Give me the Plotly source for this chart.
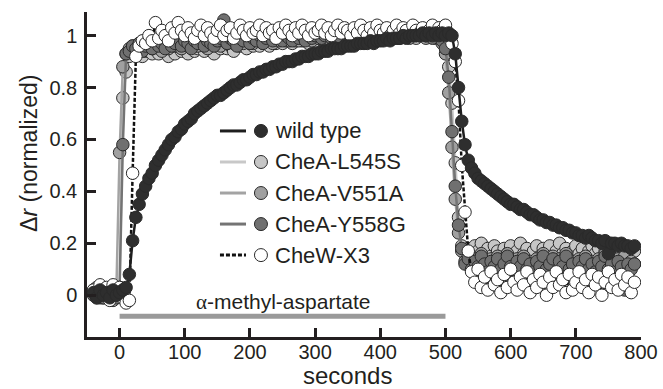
import plotly.graph_objects as go

# ---------------- data ----------------
time_s = list(range(-40, 795, 5))  # sampling grid, 5 s

wild_type = [
    0.01, -0.01, 0.02, 0.00, 0.01, -0.01, 0.02, 0.00, 0.01, 0.02,
    0.03, 0.08, 0.21, 0.30, 0.35, 0.39, 0.42, 0.45, 0.47, 0.50,
    0.52, 0.54, 0.56, 0.58, 0.60, 0.61, 0.63, 0.64, 0.66, 0.67,
    0.68, 0.70, 0.71, 0.72, 0.73, 0.74, 0.75, 0.76, 0.77, 0.77,
    0.78, 0.79, 0.80, 0.81, 0.81, 0.82, 0.83, 0.83, 0.84, 0.85,
    0.85, 0.86, 0.86, 0.87, 0.87, 0.88, 0.88, 0.89, 0.89, 0.90,
    0.90, 0.90, 0.91, 0.91, 0.92, 0.92, 0.92, 0.93, 0.93, 0.93,
    0.94, 0.94, 0.94, 0.95, 0.95, 0.95, 0.95, 0.96, 0.96, 0.96,
    0.96, 0.97, 0.97, 0.97, 0.97, 0.98, 0.97, 0.98, 0.98, 0.98,
    0.99, 0.98, 0.99, 0.99, 0.99, 1.00, 0.99, 1.00, 1.00, 1.00,
    1.00, 1.01, 1.00, 1.01, 1.00, 1.01, 1.00, 1.01, 1.00, 1.01,
    1.00, 0.93, 0.80, 0.67, 0.58, 0.52, 0.49, 0.47, 0.45, 0.44,
    0.43, 0.42, 0.41, 0.40, 0.39, 0.38, 0.37, 0.36, 0.35, 0.35,
    0.34, 0.33, 0.33, 0.32, 0.31, 0.31, 0.30, 0.29, 0.29, 0.28,
    0.28, 0.27, 0.27, 0.26, 0.26, 0.25, 0.25, 0.24, 0.24, 0.23,
    0.23, 0.22, 0.23, 0.22, 0.21, 0.21, 0.20, 0.21, 0.16, 0.20,
    0.20, 0.19, 0.20, 0.19, 0.19, 0.18, 0.19,
]

chea_l545s = [
    0.02, 0.00, 0.03, -0.01, 0.01, 0.03, 0.00, 0.02, 0.02, 0.76,
    0.86, 0.92, 0.94, 0.93, 0.95, 0.92, 0.94, 0.96, 0.93, 0.95,
    0.93, 0.96, 0.94, 0.92, 0.95, 0.93, 0.96, 0.94, 0.95, 0.93,
    0.96, 0.94, 0.95, 0.97, 0.94, 0.96, 0.95, 0.93, 0.96, 0.95,
    0.97, 0.95, 0.96, 0.94, 0.97, 0.96, 0.98, 0.95, 0.97, 0.96,
    0.98, 0.96, 0.97, 0.99, 0.96, 0.98, 0.97, 0.99, 0.97, 0.98,
    0.99, 0.97, 0.98, 1.00, 0.98, 0.99, 0.97, 1.00, 0.98, 0.99,
    1.00, 0.98, 0.99, 1.01, 0.99, 1.00, 0.98, 1.01, 0.99, 1.00,
    1.01, 0.99, 1.00, 1.02, 0.99, 1.01, 1.00, 0.99, 1.01, 1.00,
    1.02, 1.00, 1.01, 0.99, 1.01, 1.00, 1.02, 1.00, 1.01, 0.99,
    1.01, 1.00, 1.02, 1.00, 1.01, 0.99, 1.01, 1.00, 0.97, 0.88,
    0.74, 0.51, 0.30, 0.19, 0.16, 0.18, 0.15, 0.19, 0.17, 0.20,
    0.16, 0.18, 0.15, 0.19, 0.17, 0.14, 0.18, 0.16, 0.19, 0.15,
    0.17, 0.20, 0.16, 0.18, 0.14, 0.17, 0.19, 0.15, 0.18, 0.16,
    0.19, 0.15, 0.17, 0.20, 0.16, 0.18, 0.14, 0.17, 0.19, 0.16,
    0.18, 0.15, 0.17, 0.19, 0.16, 0.18, 0.14, 0.17, 0.20, 0.16,
    0.18, 0.15, 0.17, 0.19, 0.16, 0.18, 0.17,
]

chea_v551a = [
    0.01, 0.03, -0.01, 0.02, 0.00, 0.02, -0.02, 0.01, 0.55, 0.88,
    0.93, 0.95, 0.96, 0.94, 0.97, 0.95, 0.96, 0.98, 0.95, 0.97,
    0.96, 0.94, 0.97, 0.95, 0.98, 0.96, 0.97, 0.95, 0.98, 0.96,
    0.97, 0.99, 0.96, 0.98, 0.97, 0.95, 0.98, 0.97, 0.99, 0.96,
    0.98, 0.97, 0.99, 0.97, 0.98, 1.00, 0.97, 0.99, 0.98, 0.97,
    0.99, 0.98, 1.00, 0.98, 0.99, 0.97, 1.00, 0.98, 0.99, 1.01,
    0.98, 1.00, 0.99, 0.98, 1.01, 0.99, 1.00, 0.98, 1.00, 0.99,
    1.01, 0.99, 1.00, 0.98, 1.01, 1.00, 0.99, 1.01, 1.00, 0.99,
    1.00, 1.02, 0.99, 1.01, 1.00, 0.99, 1.01, 1.00, 1.02, 0.99,
    1.01, 1.00, 0.99, 1.01, 1.00, 1.02, 1.00, 0.99, 1.01, 1.00,
    1.00, 1.01, 0.99, 1.00, 1.01, 1.00, 0.99, 0.97, 0.93, 0.78,
    0.57, 0.37, 0.24, 0.17, 0.13, 0.15, 0.11, 0.14, 0.12, 0.16,
    0.13, 0.10, 0.14, 0.12, 0.15, 0.11, 0.13, 0.16, 0.12, 0.10,
    0.14, 0.12, 0.15, 0.11, 0.13, 0.10, 0.14, 0.12, 0.16, 0.11,
    0.13, 0.15, 0.10, 0.14, 0.12, 0.16, 0.11, 0.13, 0.09, 0.14,
    0.12, 0.15, 0.11, 0.13, 0.10, 0.14, 0.12, 0.16, 0.11, 0.13,
    0.10, 0.14, 0.12, 0.15, 0.11, 0.13, 0.12,
]

chea_y558g = [
    0.00, 0.02, 0.01, -0.01, 0.02, 0.00, 0.01, -0.01, 0.03, 0.58,
    0.93, 0.94, 0.96, 0.95, 0.97, 0.94, 0.96, 0.97, 0.95, 0.98,
    0.96, 0.97, 0.95, 0.98, 0.96, 0.97, 0.99, 0.96, 0.98, 0.97,
    0.95, 0.98, 0.97, 0.99, 0.96, 0.98, 0.97, 0.96, 0.98, 0.99,
    1.06, 0.97, 0.99, 0.98, 0.96, 0.99, 0.98, 1.00, 0.97, 0.99,
    0.98, 1.00, 0.97, 0.99, 1.00, 0.98, 0.99, 1.01, 0.98, 1.00,
    0.99, 0.98, 1.01, 0.99, 1.00, 0.98, 1.01, 0.99, 1.00, 1.02,
    0.99, 1.00, 1.01, 0.99, 1.00, 1.02, 0.99, 1.01, 1.00, 0.99,
    1.01, 1.00, 1.02, 0.99, 1.01, 1.00, 1.02, 1.00, 0.99, 1.01,
    1.00, 1.02, 1.00, 1.01, 0.99, 1.01, 1.00, 1.02, 1.00, 1.01,
    1.00, 1.02, 1.00, 1.01, 0.99, 1.01, 1.00, 0.98, 0.95, 0.84,
    0.63, 0.42, 0.27, 0.18, 0.12, 0.14, 0.10, 0.13, 0.11, 0.15,
    0.12, 0.09, 0.13, 0.11, 0.14, 0.10, 0.12, 0.15, 0.11, 0.09,
    0.13, 0.11, 0.14, 0.10, 0.12, 0.09, 0.13, 0.11, 0.15, 0.10,
    0.12, 0.14, 0.09, 0.13, 0.11, 0.15, 0.10, 0.12, 0.08, 0.13,
    0.11, 0.14, 0.10, 0.12, 0.09, 0.13, 0.11, 0.15, 0.10, 0.12,
    0.09, 0.13, 0.11, 0.02, 0.12, 0.10, 0.12,
]

chew_x3 = [
    0.02, -0.01, 0.04, 0.01, 0.03, -0.02, 0.04, 0.01, 0.03, -0.01,
    -0.03, -0.02, 0.47, 0.92, 0.96, 0.98, 0.97, 1.00, 0.98, 1.05,
    0.99, 1.02, 1.00, 0.98, 1.03, 1.01, 1.05, 1.02, 1.00, 1.03,
    1.01, 0.99, 1.02, 1.04, 1.00, 1.03, 1.01, 0.99, 1.02, 1.04,
    1.00, 1.02, 1.03, 0.99, 1.01, 1.04, 1.02, 1.00, 1.03, 1.01,
    1.02, 1.04, 1.00, 1.03, 1.01, 1.02, 0.99, 1.03, 1.01, 1.04,
    1.02, 1.00, 1.03, 1.01, 1.04, 1.02, 1.00, 1.03, 1.01, 1.02,
    1.04, 1.01, 1.03, 1.00, 1.02, 1.04, 1.01, 1.03, 1.02, 1.00,
    1.03, 1.01, 1.04, 1.02, 1.00, 1.03, 1.01, 1.04, 1.02, 1.01,
    1.03, 1.00, 1.02, 1.04, 1.01, 1.03, 1.02, 1.00, 1.04, 1.02,
    1.01, 1.03, 1.00, 1.02, 1.04, 1.01, 1.03, 1.02, 1.04, 0.99,
    0.97, 0.90, 0.75, 0.50, 0.32, 0.17, 0.09, 0.05, 0.10, 0.03,
    0.07, 0.02, 0.09, 0.04, 0.06, 0.01, 0.08, 0.03, 0.10, 0.05,
    0.02, 0.07, 0.04, 0.09, 0.01, 0.06, 0.03, 0.08, 0.05, 0.00,
    0.07, 0.03, 0.09, 0.04, 0.06, 0.01, 0.08, 0.02, 0.05, 0.09,
    0.03, 0.06, 0.01, 0.08, 0.04, 0.07, 0.00, 0.05, 0.09, 0.03,
    0.06, 0.02, 0.08, 0.04, 0.07, 0.01, 0.05,
]

series_names = ["wild type", "CheA-L545S", "CheA-V551A", "CheA-Y558G", "CheW-X3"]
series_values = [wild_type, chea_l545s, chea_v551a, chea_y558g, chew_x3]
fill_colors = ["#2e2e2e", "#c6c6c6", "#a0a0a0", "#707070", "#ffffff"]
line_colors = ["#1e1e1e", "#c8c8c8", "#a3a3a3", "#747474", "#111111"]
line_dashes = ["solid", "solid", "solid", "solid", "4px,2px"]
draw_order = [1, 2, 3, 4, 0]

x_ticks = [0, 100, 200, 300, 400, 500, 600, 700, 800]
y_ticks = [0, 0.2, 0.4, 0.6, 0.8, 1]
y_tick_labels = ["0", "0.2", "0.4", "0.6", "0.8", "1"]

stim_start, stim_end = 0, 500
stim_label = '<span style="font-family:Liberation Serif">α</span>-methyl-aspartate'

for v in series_values:
    if len(v) != len(time_s):
        raise ValueError(f"length {len(v)} != {len(time_s)}")

# ---------------- figure ----------------
INK = "#231f20"
FONT = "Liberation Sans, Arial, sans-serif"

fig = go.Figure()
for i in draw_order:
    fig.add_trace(go.Scatter(
        x=time_s, y=series_values[i], name=series_names[i], mode="lines+markers",
        line=dict(color=line_colors[i], width=2.5, dash=line_dashes[i]),
        marker=dict(size=12.5, color=fill_colors[i], line=dict(color="#2a2a2a", width=1)),
        showlegend=False,
    ))

shapes = []
annotations = []

# stimulus bar
shapes.append(dict(type="line", xref="x", yref="y", x0=stim_start, x1=stim_end,
                   y0=-0.081, y1=-0.081, line=dict(color="#9a9a9a", width=5)))
annotations.append(dict(x=(stim_start + stim_end) / 2, y=-0.027, xref="x", yref="y",
                        text=stim_label, showarrow=False, xanchor="center", yanchor="middle",
                        font=dict(size=21, color=INK, family=FONT)))

# custom legend
leg_x0, leg_x1, leg_mx, leg_tx = 0.240, 0.287, 0.314, 0.335
leg_y0, leg_dy = 0.634, 0.0955
for k, name in enumerate(series_names):
    yy = leg_y0 - k * leg_dy
    shapes.append(dict(type="line", xref="paper", yref="paper", x0=leg_x0, x1=leg_x1,
                       y0=yy, y1=yy, line=dict(color=line_colors[k], width=3,
                                               dash="4px,2px" if line_dashes[k] != "solid" else "solid")))
    shapes.append(dict(type="circle", xref="paper", yref="paper", xsizemode="pixel",
                       ysizemode="pixel", xanchor=leg_mx, yanchor=yy, x0=-6.5, x1=6.5,
                       y0=-6.5, y1=6.5, fillcolor=fill_colors[k],
                       line=dict(color="#2a2a2a", width=1)))
    annotations.append(dict(x=leg_tx, y=yy, xref="paper", yref="paper", text=name,
                            showarrow=False, xanchor="left", yanchor="middle",
                            font=dict(size=22, color=INK, family=FONT)))

# axis titles
annotations.append(dict(x=350, y=-0.118, xref="x", yref="paper", text="seconds",
                        showarrow=False, xanchor="center", yanchor="middle",
                        font=dict(size=24, color=INK, family=FONT)))
annotations.append(dict(x=-0.105, y=0.566, xref="paper", yref="paper",
                        text="Δ<i>r</i> (normalized)", textangle=-90, showarrow=False,
                        xanchor="center", yanchor="middle",
                        font=dict(size=23, color=INK, family=FONT)))

fig.update_layout(
    width=663, height=389,
    margin=dict(l=87, r=22, t=12, b=52),
    paper_bgcolor="white", plot_bgcolor="white",
    font=dict(family=FONT, color=INK, size=20),
    shapes=shapes, annotations=annotations,
    showlegend=False,
)
fig.update_xaxes(range=[-50, 800], tickvals=x_ticks, showgrid=False, zeroline=False,
                 showline=True, linecolor=INK, linewidth=2.5, ticks="inside", ticklen=9,
                 tickwidth=2.5, tickcolor=INK, tickfont=dict(size=20), ticklabelstandoff=-5,
                 automargin=False)
fig.update_yaxes(range=[-0.161, 1.091], tickvals=y_ticks, ticktext=y_tick_labels,
                 showgrid=False, zeroline=False, showline=True, linecolor=INK, linewidth=2.5,
                 ticks="inside", ticklen=9, tickwidth=2.5, tickcolor=INK,
                 tickfont=dict(size=20), ticklabelstandoff=3, automargin=False)

fig.write_html("out.html", config={"displayModeBar": False},
               post_script="document.body.style.margin='0px';")
